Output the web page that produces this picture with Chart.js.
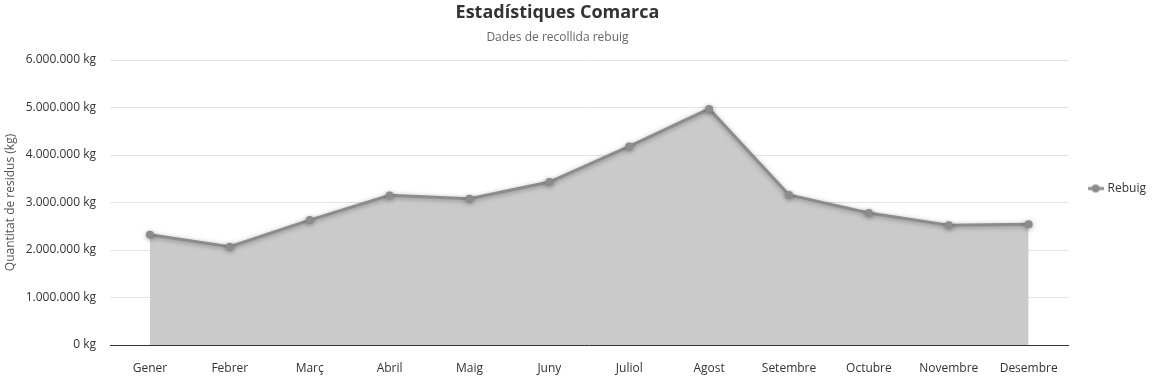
<!DOCTYPE html>
<html>
<head>
<meta charset="utf-8">
<script src="https://cdn.jsdelivr.net/npm/chart.js@4"></script>
<style>
  html, body { margin: 0; padding: 0; background: #fff; }
  #wrap { position: relative; width: 1156px; height: 377px; }
  .chart-header { position: absolute; left: 0; top: 0; width: 1115px; text-align: center; font-family: 'Open Sans', 'Noto Sans', sans-serif; }
  .chart-header h1 { margin: 0; padding-top: 0; font-size: 18px; line-height: 22px; font-weight: bold; color: #333; }
  .chart-header p { margin: 0; padding-top: 7px; font-size: 12px; line-height: 16px; color: #666; }
</style>
</head>
<body>
<div id="wrap">
  <div class="chart-header">
    <h1>Estadístiques Comarca</h1>
    <p>Dades de recollida rebuig</p>
  </div>
  <canvas id="residusChart"></canvas>
</div>
<script>
const months = ['Gener', 'Febrer', 'Març', 'Abril', 'Maig', 'Juny', 'Juliol', 'Agost', 'Setembre', 'Octubre', 'Novembre', 'Desembre'];
const rebuig = [2320000, 2070000, 2630000, 3150000, 3080000, 3430000, 4180000, 4970000, 3160000, 2780000, 2520000, 2540000];
const yTicks = [0, 1000000, 2000000, 3000000, 4000000, 5000000, 6000000];

function formatKg(value) {
    return String(value).replace(/\B(?=(\d{3})+(?!\d))/g, '.') + ' kg';
}

// little icon for the legend: line with a dot
function legendIcon() {
    const c = document.createElement('canvas');
    c.width = 16;
    c.height = 10;
    const ctx = c.getContext('2d');
    ctx.strokeStyle = '#8c8c8c';
    ctx.lineWidth = 3;
    ctx.beginPath();
    ctx.moveTo(0, 5);
    ctx.lineTo(16, 5);
    ctx.stroke();
    ctx.fillStyle = '#8c8c8c';
    ctx.beginPath();
    ctx.arc(8, 5, 4, 0, Math.PI * 2);
    ctx.fill();
    return c;
}

const lineShadow = {
    id: 'lineShadow',
    beforeDatasetDraw(chart) {
        const ctx = chart.ctx;
        ctx.save();
        ctx.shadowColor = 'rgba(0,0,0,0.35)';
        ctx.shadowBlur = 5;
        ctx.shadowOffsetY = 1;
    },
    afterDatasetDraw(chart) {
        chart.ctx.restore();
    }
};

Chart.defaults.font.family = "'Open Sans', 'Noto Sans', sans-serif";
Chart.defaults.color = '#333';

new Chart('residusChart', {
    type: 'line',
    data: {
        labels: months,
        datasets: [
            {
                label: 'Rebuig',
                data: rebuig,
                borderColor: '#8c8c8c',
                backgroundColor: '#cacaca',
                borderWidth: 3,
                fill: 'origin',
                tension: 0,
                pointRadius: 4,
                pointHoverRadius: 5,
                pointBackgroundColor: '#8c8c8c',
                pointBorderWidth: 0,
                pointStyle: 'circle'
            }
        ]
    },
    options: {
        responsive: true,
        maintainAspectRatio: false,
        animation: false,
        layout: {
            padding: 0
        },
        plugins: {
            // empty title only keeps room for the html header above the plot,
            // legend stays centred on the full height
            title: {
                display: true,
                text: '',
                fullSize: false,
                font: { size: 10 },
                padding: { top: 0, bottom: 48 }
            },
            legend: {
                position: 'right',
                labels: {
                    color: '#333',
                    font: { size: 12 },
                    usePointStyle: true,
                    pointStyle: legendIcon(),
                    padding: 21
                }
            },
            tooltip: { enabled: false }
        },
        scales: {
            x: {
                offset: true,
                grid: { display: false, drawTicks: false },
                border: { display: true, color: '#333', width: 1 },
                ticks: { color: '#333', font: { size: 12 }, padding: 16, maxRotation: 0 },
                afterFit(axis) {
                    axis.height = 32;
                }
            },
            y: {
                min: 0,
                max: 6000000,
                afterBuildTicks(axis) {
                    axis.ticks = yTicks.map(v => ({ value: v }));
                },
                afterFit(axis) {
                    axis.width = 110;
                },
                grid: { color: '#e4e4e4', drawTicks: false },
                border: { display: false },
                ticks: {
                    color: '#333',
                    font: { size: 12 },
                    padding: 14,
                    callback: value => formatKg(value)
                },
                title: {
                    display: true,
                    text: 'Quantitat de residus (kg)',
                    color: '#555',
                    font: { size: 12 },
                    padding: { top: 3, bottom: 0 }
                }
            }
        }
    },
    plugins: [lineShadow]
});
</script>
</body>
</html>
